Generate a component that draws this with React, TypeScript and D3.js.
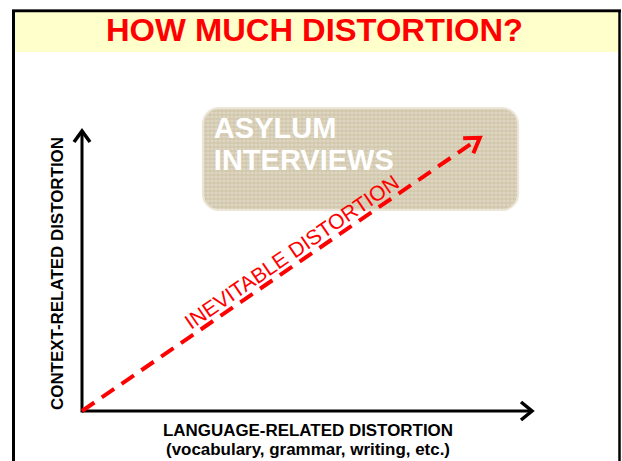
import React from 'react';
import { scaleLinear } from 'd3';

const title = 'HOW MUCH DISTORTION?';
const xAxisLabel = ['LANGUAGE-RELATED DISTORTION', '(vocabulary, grammar, writing, etc.)'];
const yAxisLabel = 'CONTEXT-RELATED DISTORTION';
const boxLines = ['ASYLUM', 'INTERVIEWS'];
const trendLabel = 'INEVITABLE DISTORTION';

// diagram space: 0..1 on both axes (origin to arrow tip)
const trendFrom = [0, 0];
const trendTo = [0.882, 0.972];
const boxX = [0.268, 0.967];
const boxY = [0.715, 1.078];

const W = 622;
const H = 461;

const App: React.FC = () => {
  const x = scaleLinear().domain([0, 1]).range([82, 533]);
  const y = scaleLinear().domain([0, 1]).range([411, 130]);

  const x0 = x(trendFrom[0]);
  const y0 = y(trendFrom[1]);
  const x1 = x(trendTo[0]);
  const y1 = y(trendTo[1]);
  const ang = (Math.atan2(y1 - y0, x1 - x0) * 180) / Math.PI;
  const len = Math.hypot(x1 - x0, y1 - y0);

  // label position along trend line, nudged above it
  const t = 0.545;
  const lx = x0 + (x1 - x0) * t;
  const ly = y0 + (y1 - y0) * t;

  const bx = x(boxX[0]);
  const bw = x(boxX[1]) - bx;
  const by = y(boxY[1]);
  const bh = y(boxY[0]) - by;

  return (
    <svg
      width={W}
      height={H}
      style={{ position: 'absolute', left: 0, top: 0, background: '#fff' }}
      fontFamily="'Liberation Sans', Arial, sans-serif"
    >
      <defs>
        <pattern id="linen" width="4" height="4" patternUnits="userSpaceOnUse">
          <rect width="4" height="4" fill="#d8cfb7" />
          <line x1="0" y1="1" x2="4" y2="1" stroke="#e8e2d0" strokeWidth="0.8" />
          <line x1="2" y1="0" x2="2" y2="4" stroke="#c6bc9f" strokeWidth="0.6" />
          <line x1="0" y1="3" x2="4" y2="3" stroke="#cdc3a9" strokeWidth="0.5" />
        </pattern>
      </defs>

      {/* slide frame */}
      <rect x={15} y={12} width={603} height={40} fill="#ffffcc" />
      <line x1={12} y1={9.5} x2={621} y2={9.5} stroke="#777" strokeWidth={1} />
      <line x1={12} y1={11} x2={621} y2={11} stroke="#000" strokeWidth={2.5} />
      <line x1={13.5} y1={10} x2={13.5} y2={H} stroke="#000" strokeWidth={3} />
      <line x1={619.5} y1={10} x2={619.5} y2={H} stroke="#000" strokeWidth={2.5} />

      <text
        x={314.5}
        y={41}
        textAnchor="middle"
        fontSize={31.5}
        fontWeight="bold"
        fill="#ff0000"
        textLength={417}
        lengthAdjust="spacingAndGlyphs"
      >
        {title}
      </text>

      {/* box */}
      <rect x={bx} y={by} width={bw} height={bh} rx={16} fill="url(#linen)" stroke="#ece6d8" strokeWidth={2} />
      {boxLines.map((s, i) => (
        <text key={s} x={bx + 11} y={by + 30 + i * 32} fontSize={29} fontWeight="bold" fill="#fff">
          {s}
        </text>
      ))}

      {/* axes */}
      <line x1={x(0)} y1={y(0)} x2={x(1) - 2} y2={y(0)} stroke="#000" strokeWidth={3} />
      <line x1={x(0)} y1={y(0) + 1.5} x2={x(0)} y2={y(1) + 2} stroke="#000" strokeWidth={3} />
      <polyline
        points={`${x(1) - 12},${y(0) - 9} ${x(1) - 1},${y(0)} ${x(1) - 12},${y(0) + 9}`}
        fill="none"
        stroke="#000"
        strokeWidth={3.5}
        strokeLinejoin="miter"
      />
      <polyline
        points={`${x(0) - 8},${y(1) + 12} ${x(0)},${y(1) + 1} ${x(0) + 8},${y(1) + 12}`}
        fill="none"
        stroke="#000"
        strokeWidth={3.5}
        strokeLinejoin="miter"
      />

      {/* trend arrow */}
      <g transform={`translate(${x0},${y0}) rotate(${ang})`}>
        <line x1={0} y1={0} x2={len - 3} y2={0} stroke="#ff0000" strokeWidth={4} strokeDasharray="15,9" />
        <polyline
          points={`${len - 14},${-9} ${len},0 ${len - 14},9`}
          fill="none"
          stroke="#ff0000"
          strokeWidth={4}
        />
      </g>
      <text
        transform={`translate(${lx},${ly}) rotate(${ang}) translate(0,-5)`}
        textAnchor="middle"
        fontSize={21}
        fill="#ff0000"
      >
        {trendLabel}
      </text>

      {/* axis labels */}
      <text
        transform={`translate(63,${(137 + 410) / 2}) rotate(-90)`}
        textAnchor="middle"
        fontSize={16}
        fontWeight="bold"
        fill="#000"
        textLength={273}
        lengthAdjust="spacingAndGlyphs"
      >
        {yAxisLabel}
      </text>
      {xAxisLabel.map((s, i) => (
        <text
          key={s}
          x={308}
          y={436 + i * 19}
          textAnchor="middle"
          fontSize={16}
          fontWeight="bold"
          fill="#000"
          textLength={i === 0 ? 290 : 284}
          lengthAdjust="spacingAndGlyphs"
        >
          {s}
        </text>
      ))}
    </svg>
  );
};

export default App;
